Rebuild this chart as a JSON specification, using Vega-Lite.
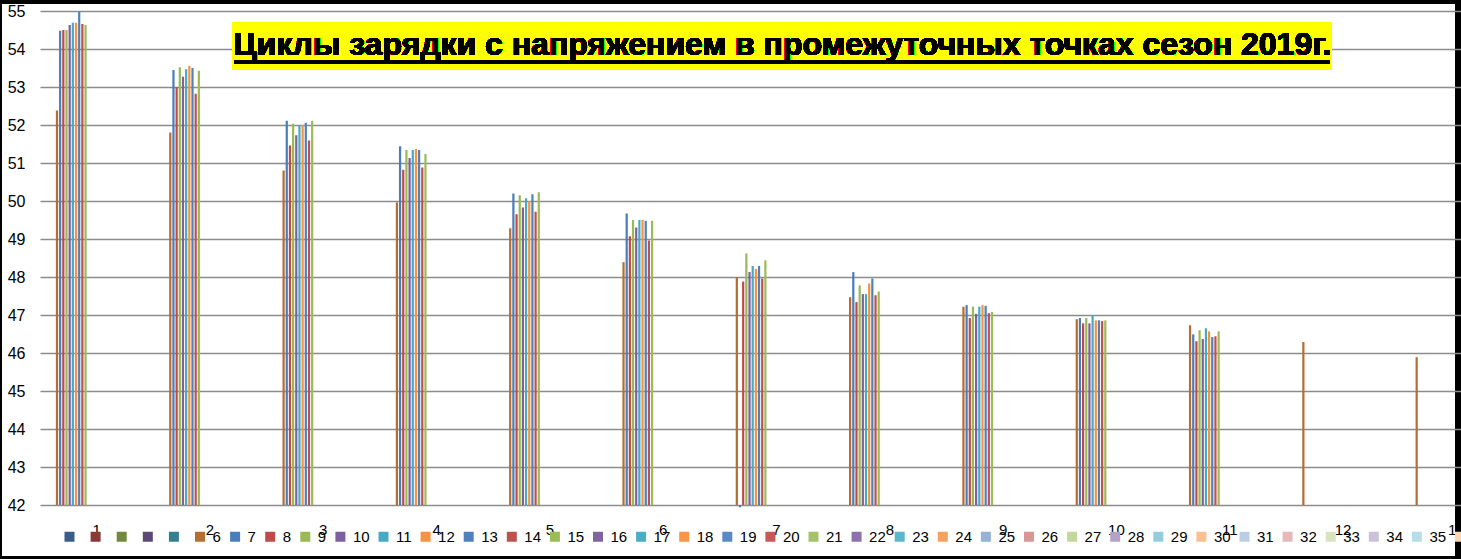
{
  "$schema": "https://vega.github.io/schema/vega-lite/v6.json",
  "autosize": {"type": "none"},
  "padding": {"left": 2, "top": 4, "right": 6, "bottom": 3},
  "width": 1453,
  "height": 552,
  "background": "black",
  "config": {"view": {"fill": "white", "stroke": null}, "font": "Liberation Sans"},
  "data": {"values": [
    {"c": 1, "s": 6, "v": 52.38}, {"c": 1, "s": 7, "v": 54.48}, {"c": 1, "s": 8, "v": 54.5}, {"c": 1, "s": 9, "v": 54.5}, {"c": 1, "s": 10, "v": 54.63}, {"c": 1, "s": 11, "v": 54.69}, {"c": 1, "s": 12, "v": 54.69}, {"c": 1, "s": 13, "v": 54.98}, {"c": 1, "s": 14, "v": 54.66}, {"c": 1, "s": 15, "v": 54.63},
    {"c": 2, "s": 6, "v": 51.8}, {"c": 2, "s": 7, "v": 53.45}, {"c": 2, "s": 8, "v": 53.0}, {"c": 2, "s": 9, "v": 53.52}, {"c": 2, "s": 10, "v": 53.27}, {"c": 2, "s": 11, "v": 53.47}, {"c": 2, "s": 12, "v": 53.56}, {"c": 2, "s": 13, "v": 53.5}, {"c": 2, "s": 14, "v": 52.82}, {"c": 2, "s": 15, "v": 53.43},
    {"c": 3, "s": 6, "v": 50.8}, {"c": 3, "s": 7, "v": 52.11}, {"c": 3, "s": 8, "v": 51.46}, {"c": 3, "s": 9, "v": 52.03}, {"c": 3, "s": 10, "v": 51.73}, {"c": 3, "s": 11, "v": 52.0}, {"c": 3, "s": 12, "v": 52.0}, {"c": 3, "s": 13, "v": 52.06}, {"c": 3, "s": 14, "v": 51.59}, {"c": 3, "s": 15, "v": 52.11},
    {"c": 4, "s": 6, "v": 49.96}, {"c": 4, "s": 7, "v": 51.44}, {"c": 4, "s": 8, "v": 50.82}, {"c": 4, "s": 9, "v": 51.34}, {"c": 4, "s": 10, "v": 51.13}, {"c": 4, "s": 11, "v": 51.34}, {"c": 4, "s": 12, "v": 51.37}, {"c": 4, "s": 13, "v": 51.34}, {"c": 4, "s": 14, "v": 50.88}, {"c": 4, "s": 15, "v": 51.24},
    {"c": 5, "s": 6, "v": 49.28}, {"c": 5, "s": 7, "v": 50.2}, {"c": 5, "s": 8, "v": 49.65}, {"c": 5, "s": 9, "v": 50.15}, {"c": 5, "s": 10, "v": 49.83}, {"c": 5, "s": 11, "v": 50.07}, {"c": 5, "s": 12, "v": 50.0}, {"c": 5, "s": 13, "v": 50.18}, {"c": 5, "s": 14, "v": 49.72}, {"c": 5, "s": 15, "v": 50.23},
    {"c": 6, "s": 6, "v": 48.39}, {"c": 6, "s": 7, "v": 49.67}, {"c": 6, "s": 8, "v": 49.07}, {"c": 6, "s": 9, "v": 49.5}, {"c": 6, "s": 10, "v": 49.3}, {"c": 6, "s": 11, "v": 49.5}, {"c": 6, "s": 12, "v": 49.5}, {"c": 6, "s": 13, "v": 49.48}, {"c": 6, "s": 14, "v": 48.96}, {"c": 6, "s": 15, "v": 49.48},
    {"c": 7, "s": 6, "v": 48.0}, {"c": 7, "s": 7, "v": 41.94}, {"c": 7, "s": 8, "v": 47.88}, {"c": 7, "s": 9, "v": 48.62}, {"c": 7, "s": 10, "v": 48.13}, {"c": 7, "s": 11, "v": 48.29}, {"c": 7, "s": 12, "v": 48.21}, {"c": 7, "s": 13, "v": 48.29}, {"c": 7, "s": 14, "v": 47.96}, {"c": 7, "s": 15, "v": 48.44},
    {"c": 8, "s": 6, "v": 47.47}, {"c": 8, "s": 7, "v": 48.13}, {"c": 8, "s": 8, "v": 47.34}, {"c": 8, "s": 9, "v": 47.78}, {"c": 8, "s": 10, "v": 47.55}, {"c": 8, "s": 11, "v": 47.55}, {"c": 8, "s": 12, "v": 47.83}, {"c": 8, "s": 13, "v": 47.96}, {"c": 8, "s": 14, "v": 47.52}, {"c": 8, "s": 15, "v": 47.62},
    {"c": 9, "s": 6, "v": 47.22}, {"c": 9, "s": 7, "v": 47.26}, {"c": 9, "s": 8, "v": 46.92}, {"c": 9, "s": 9, "v": 47.22}, {"c": 9, "s": 10, "v": 47.03}, {"c": 9, "s": 11, "v": 47.22}, {"c": 9, "s": 12, "v": 47.26}, {"c": 9, "s": 13, "v": 47.24}, {"c": 9, "s": 14, "v": 47.05}, {"c": 9, "s": 15, "v": 47.08},
    {"c": 10, "s": 6, "v": 46.89}, {"c": 10, "s": 7, "v": 46.92}, {"c": 10, "s": 8, "v": 46.78}, {"c": 10, "s": 9, "v": 46.92}, {"c": 10, "s": 10, "v": 46.78}, {"c": 10, "s": 11, "v": 47.0}, {"c": 10, "s": 12, "v": 46.86}, {"c": 10, "s": 13, "v": 46.86}, {"c": 10, "s": 14, "v": 46.84}, {"c": 10, "s": 15, "v": 46.86},
    {"c": 11, "s": 6, "v": 46.73}, {"c": 11, "s": 7, "v": 46.49}, {"c": 11, "s": 8, "v": 46.31}, {"c": 11, "s": 9, "v": 46.6}, {"c": 11, "s": 10, "v": 46.37}, {"c": 11, "s": 11, "v": 46.65}, {"c": 11, "s": 12, "v": 46.57}, {"c": 11, "s": 13, "v": 46.42}, {"c": 11, "s": 14, "v": 46.44}, {"c": 11, "s": 15, "v": 46.57},
    {"c": 12, "s": 6, "v": 46.29},
    {"c": 13, "s": 6, "v": 45.89}
  ]},
  "layer": [
    {
      "mark": {"type": "bar", "clip": true},
      "encoding": {
        "x": {
          "field": "c", "type": "ordinal",
          "scale": {"domain": [1,2,3,4,5,6,7,8,9,10,11,12,13], "range": [38, 1511], "paddingInner": 0, "paddingOuter": 0},
          "axis": {"orient": "bottom", "offset": -51, "domain": false, "ticks": false, "grid": false, "labelFontSize": 15, "labelPadding": 17, "labelColor": "black", "labelAngle": 0, "title": null, "labelFont": "Liberation Sans"}
        },
        "xOffset": {
          "field": "s", "type": "ordinal",
          "scale": {"domain": [1,2,3,4,5,6,7,8,9,10,11,12,13,14,15,16,17,18,19,20,21,22,23,24,25,26,27,28,29,30,31,32,33,34,35,36], "paddingInner": 0.3, "paddingOuter": 0}
        },
        "y": {
          "field": "v", "type": "quantitative",
          "scale": {"domain": [42, 55], "range": [501, 7], "nice": false, "zero": false},
          "axis": {"orient": "left", "offset": -38, "values": [42,43,44,45,46,47,48,49,50,51,52,53,54,55], "domain": false, "ticks": false, "labelFontSize": 16, "labelColor": "black", "labelPadding": 15, "gridColor": "#8c8c8c", "gridWidth": 1.5, "title": null, "labelFont": "Liberation Sans"}
        },
        "y2": {"datum": 42},
        "color": {
          "field": "s", "type": "ordinal",
          "scale": {
            "domain": [1,2,3,4,5,6,7,8,9,10,11,12,13,14,15,16,17,18,19,20,21,22,23,24,25,26,27,28,29,30,31,32,33,34,35,36],
            "range": ["#385D8A","#8C3836","#71893F","#5C4776","#357D91","#B66D31","#4A7EBB","#BE4B48","#98B954","#7D60A0","#46AAC5","#F69240","#4F81BD","#C0504D","#9BBB59","#8064A2","#4BACC6","#F79646","#5A8AC6","#C75A57","#A5C26A","#8B72AD","#5BB6CE","#F8A05E","#95B3D7","#D99694","#C3D69B","#B3A2C7","#93CDDD","#FAC090","#B9CDE5","#E6B9B8","#D7E4BD","#CCC1DA","#B7DEE8","#FCD5B5"]
          },
          "legend": {"orient": "none", "legendX": 60, "legendY": 525, "direction": "horizontal", "columns": 36, "gridAlign": "each", "symbolLimit": 40, "title": null, "symbolType": "square", "symbolSize": 100, "symbolStrokeWidth": 0, "symbolOpacity": 1, "labelFontSize": 15, "labelColor": "black", "labelFont": "Liberation Sans", "labelOffset": 5, "columnPadding": 6.1, "padding": 0, "labelExpr": "datum.value <= 5 ? '' : datum.label"}
        }
      }
    },
    {
      "mark": {"type": "rect", "color": "#FFFF00"},
      "encoding": {
        "x": {"datum": 2, "type": "ordinal", "bandPosition": 0.7},
        "x2": {"datum": 12, "bandPosition": 0.4},
        "y": {"datum": 54.71, "type": "quantitative"},
        "y2": {"datum": 53.45}
      }
    },
    {
      "mark": {"type": "text", "text": "Циклы зарядки с напряжением в промежуточных точках сезон 2019г.", "font": "Liberation Sans", "fontWeight": "bold", "fontSize": 32, "color": "black", "align": "center", "baseline": "alphabetic"},
      "encoding": {
        "x": {"datum": 7, "type": "ordinal", "bandPosition": 0.55},
        "y": {"datum": 53.84, "type": "quantitative"}
      }
    },
    {
      "mark": {"type": "rule", "color": "black", "strokeWidth": 3},
      "encoding": {
        "x": {"datum": 2, "type": "ordinal", "bandPosition": 0.72},
        "x2": {"datum": 12, "bandPosition": 0.38},
        "y": {"datum": 53.66, "type": "quantitative"}
      }
    }
  ]
}
